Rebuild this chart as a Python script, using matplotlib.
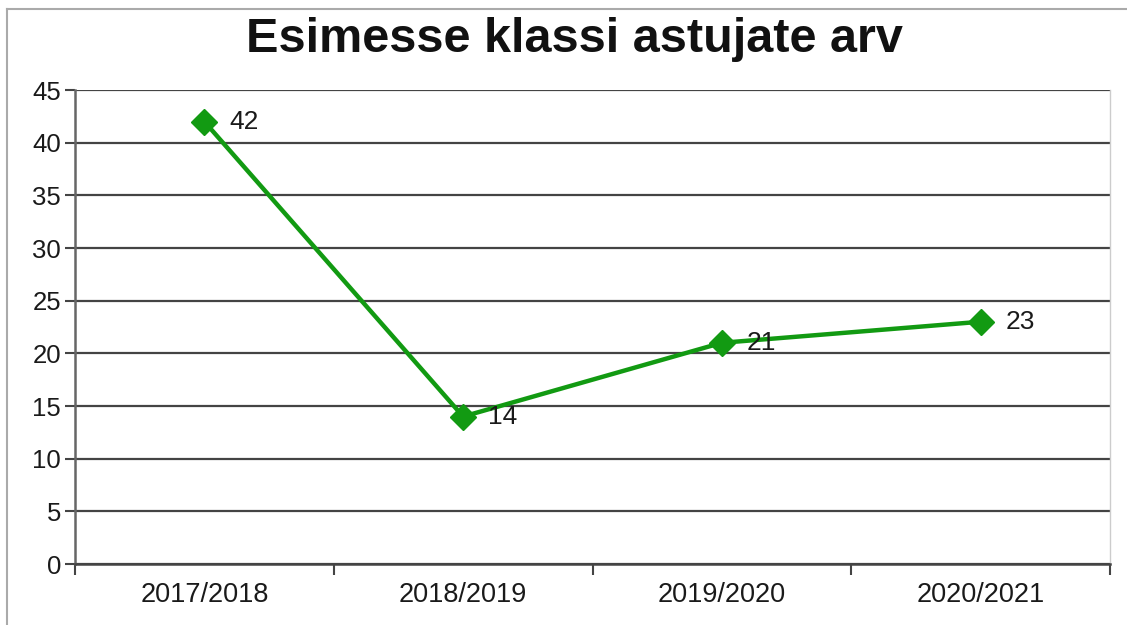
import matplotlib.pyplot as plt
from matplotlib.lines import Line2D

plt.rcParams['font.family'] = ['Liberation Sans', 'DejaVu Sans']

# Data
years = ['2017/2018', '2018/2019', '2019/2020', '2020/2021']
counts = [42, 14, 21, 23]

fig = plt.figure(figsize=(11.27, 6.25), dpi=100)
ax = fig.add_axes([75 / 1127, 1 - 564 / 625, 1035 / 1127, 474 / 625])

x = list(range(len(years)))
ax.plot(x, counts, color='#129a12', linewidth=3.2, marker='D', markersize=13.5,
        zorder=3, clip_on=False)

# value labels to the right of each point
for xi, v in zip(x, counts):
    ax.annotate(str(v), (xi, v), xytext=(18, 0), textcoords='offset points',
                ha='left', va='center', fontsize=19, color='#1a1a1a', zorder=4)

ax.set_xlim(-0.5, len(years) - 0.5)
ax.set_ylim(0, 45)
ax.set_yticks(range(0, 46, 5))
ax.tick_params(axis='y', labelsize=18.5, length=7, width=1.5, color='#444444',
               labelcolor='#1a1a1a', pad=3)

# category labels centred, ticks at the category boundaries
ax.set_xticks([i - 0.5 for i in range(len(years) + 1)])
ax.set_xticklabels([])
ax.set_xticks(x, minor=True)
ax.set_xticklabels(years, minor=True, fontsize=19.5, color='#1a1a1a')
ax.tick_params(axis='x', which='major', length=8, width=1.5, color='#444444')
ax.tick_params(axis='x', which='minor', length=0, pad=13)

ax.grid(axis='y', color='#444444', linewidth=1.6, zorder=1)
ax.set_axisbelow(True)

ax.spines['top'].set_visible(False)
ax.spines['left'].set_color('#666666')
ax.spines['left'].set_linewidth(1.8)
ax.spines['bottom'].set_color('#444444')
ax.spines['bottom'].set_linewidth(1.8)
ax.spines['right'].set_color('#cccccc')
ax.spines['right'].set_linewidth(1.0)

fig.text(574 / 1127, 1 - 40 / 625, 'Esimesse klassi astujate arv', ha='center', va='center',
         fontsize=35, fontweight='bold', color='#111111')

# light frame on the top and left edges
fig.add_artist(Line2D([7 / 1127, 1], [1 - 9 / 625, 1 - 9 / 625], transform=fig.transFigure,
                      color='#aaaaaa', linewidth=1.5))
fig.add_artist(Line2D([7 / 1127, 7 / 1127], [0, 1 - 9 / 625], transform=fig.transFigure,
                      color='#aaaaaa', linewidth=1.5))

plt.savefig('out.png', dpi=100)
